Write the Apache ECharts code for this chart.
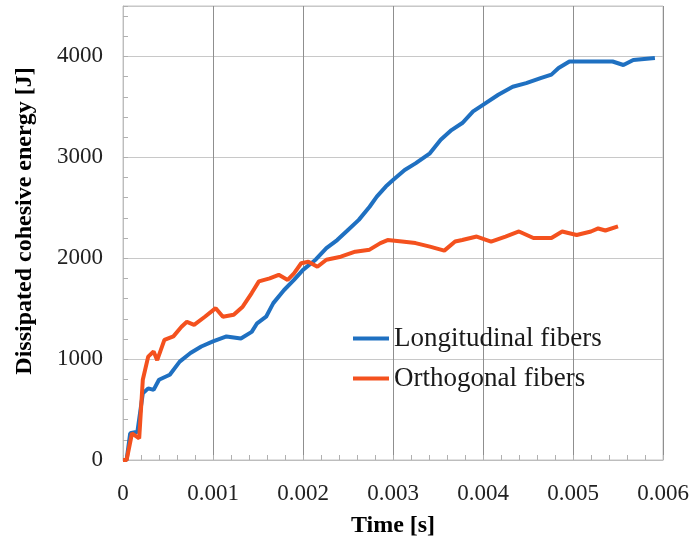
<!DOCTYPE html>
<html>
<head>
<meta charset="utf-8">
<script src="https://cdn.jsdelivr.net/npm/echarts@6/dist/echarts.min.js"></script>
<style>
  html, body { margin: 0; padding: 0; background: #fff; }
  #chart { width: 693px; height: 545px; }
</style>
</head>
<body>
<div id="chart"></div>
<script>
// Longitudinal fibers
var longT = [0, 0.00004, 0.00008, 0.00016, 0.00022, 0.00028, 0.00034, 0.0004, 0.00052, 0.00063,
  0.00075, 0.00087, 0.001, 0.00115, 0.00131, 0.00143, 0.00149, 0.00159, 0.00167, 0.00179,
  0.0019, 0.002, 0.00214, 0.00226, 0.00238, 0.0025, 0.00262, 0.00274, 0.00282, 0.00292,
  0.003, 0.00313, 0.00325, 0.00341, 0.00353, 0.00365, 0.00377, 0.00389, 0.004, 0.00417,
  0.00433, 0.00448, 0.00464, 0.00476, 0.00484, 0.00496, 0.00512, 0.00544, 0.00556, 0.00567,
  0.00591];
var longE = [0, 0, 265, 280, 660, 710, 695, 795, 845, 975,
  1060, 1125, 1175, 1225, 1205, 1270, 1355, 1420, 1555, 1685,
  1785, 1885, 1985, 2100, 2180, 2280, 2380, 2510, 2610, 2710,
  2775, 2875, 2940, 3040, 3175, 3270, 3340, 3455, 3520, 3620,
  3700, 3735, 3785, 3820, 3885, 3950, 3950, 3950, 3915, 3965,
  3985];

// Orthogonal fibers
var orthoT = [0, 0.00004, 0.0001, 0.00018, 0.00022, 0.00028, 0.00034, 0.00038, 0.00046, 0.00056,
  0.00065, 0.00071, 0.00079, 0.00091, 0.00103, 0.00111, 0.00123, 0.00133, 0.00143, 0.00151,
  0.00163, 0.00173, 0.00183, 0.0019, 0.00198, 0.00206, 0.00216, 0.00226, 0.00242, 0.00258,
  0.00274, 0.00286, 0.00294, 0.0031, 0.00325, 0.00341, 0.00357, 0.00369, 0.00377, 0.00393,
  0.00409, 0.00425, 0.0044, 0.00456, 0.00476, 0.00488, 0.00504, 0.0052, 0.00528, 0.00536,
  0.0055];
var orthoE = [0, 0, 265, 215, 795, 1025, 1075, 990, 1190, 1225,
  1320, 1370, 1340, 1420, 1505, 1420, 1440, 1520, 1655, 1770,
  1800, 1835, 1785, 1850, 1950, 1965, 1915, 1985, 2015, 2065,
  2085, 2150, 2180, 2165, 2150, 2115, 2075, 2165, 2180, 2215,
  2165, 2215, 2265, 2200, 2200, 2265, 2230, 2265, 2295, 2275,
  2315];

var seriesNames = ["Longitudinal fibers", "Orthogonal fibers"];
var xTicks = [0, 0.001, 0.002, 0.003, 0.004, 0.005, 0.006];
var yTicks = [0, 1000, 2000, 3000, 4000];

function pairs(t, e) {
  return t.map(function(v, i) { return [v, e[i]]; });
}

var serif = "Liberation Serif";
var chart = echarts.init(document.getElementById("chart"));

var option = {
  animation: false,
  color: ["#1f70c1", "#f4511e"],
  grid: {
    left: 123, right: 30, top: 6, bottom: 85,
    show: true, borderColor: "#c4c4c4", borderWidth: 1
  },
  legend: {
    data: seriesNames,
    orient: "vertical",
    left: 353, top: 325,
    padding: 0,
    icon: "rect",
    itemWidth: 36, itemHeight: 4,
    itemGap: 13,
    textStyle: { fontFamily: serif, fontSize: 27, color: "#1a1a1a" }
  },
  xAxis: [{
    type: "value",
    min: 0, max: 0.006, interval: 0.001,
    name: "Time [s]",
    nameLocation: "middle",
    nameGap: 54,
    nameTextStyle: { fontFamily: serif, fontSize: 24, fontWeight: "bold", color: "#000" },
    axisLine: { show: true, lineStyle: { color: "#bdbdbd" } },
    axisTick: { show: true, inside: true, length: 5, lineStyle: { color: "#b0b0b0" } },
    minorTick: { show: true, splitNumber: 5, length: 5, lineStyle: { color: "#b0b0b0" } },
    splitLine: { show: true, lineStyle: { color: "#8f8f8f" } },
    axisLabel: {
      margin: 22, fontFamily: serif, fontSize: 23, color: "#222",
      formatter: function(v) {
        var hit = xTicks.filter(function(t) { return Math.abs(t - v) < 1e-9; });
        return hit.length ? String(hit[0]) : "";
      }
    }
  }],
  yAxis: [{
    type: "value",
    min: 0, max: 4500, interval: 1000,
    name: "Dissipated cohesive energy [J]",
    nameLocation: "middle",
    nameGap: 86,
    nameTextStyle: {
      fontFamily: serif, fontSize: 24, fontWeight: "bold", color: "#000",
      padding: [0, 0, 0, 24]
    },
    axisLine: { show: true, lineStyle: { color: "#bdbdbd" } },
    axisTick: { show: false },
    splitLine: { show: true, lineStyle: { color: "#c8c8c8" } },
    axisLabel: {
      margin: 20, fontFamily: serif, fontSize: 23, color: "#222",
      formatter: function(v) { return yTicks.indexOf(v) >= 0 ? String(v) : ""; }
    }
  }, {
    // minor ticks every 200 J
    type: "value",
    position: "left",
    min: 0, max: 4500, interval: 200,
    axisLine: { show: false },
    axisTick: { show: true, inside: true, length: 5, lineStyle: { color: "#b0b0b0" } },
    axisLabel: { show: false },
    splitLine: { show: false }
  }],
  series: [{
    name: seriesNames[0],
    type: "line",
    data: pairs(longT, longE),
    showSymbol: false,
    symbol: "none",
    lineStyle: { width: 4 }
  }, {
    name: seriesNames[1],
    type: "line",
    data: pairs(orthoT, orthoE),
    showSymbol: false,
    symbol: "none",
    lineStyle: { width: 4 }
  }]
};

chart.setOption(option);
</script>
</body>
</html>
